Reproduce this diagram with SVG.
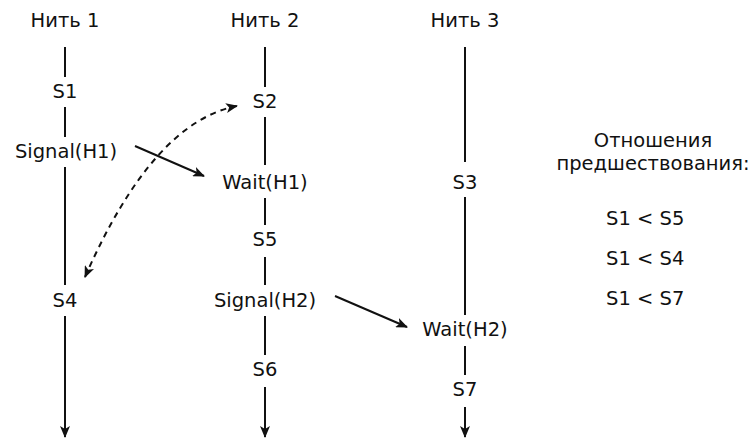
<svg xmlns="http://www.w3.org/2000/svg" width="752" height="438" viewBox="0 0 752 438">
  <style>
    text { font-family: "DejaVu Sans", "Liberation Sans", sans-serif; font-size: 19.5px; fill: #111; text-anchor: middle; }
    .rel { text-anchor: start; }
    .line { stroke: #111; stroke-width: 2; fill: none; }
    .dash { stroke: #111; stroke-width: 2; fill: none; stroke-dasharray: 6 5; }
  </style>
  <defs>
    <marker id="arrow" viewBox="0 0 12 10" refX="11" refY="5" markerWidth="12" markerHeight="10" markerUnits="userSpaceOnUse" orient="auto-start-reverse">
      <path d="M0,0 L12,5 L0,10 L3,5 Z" fill="#111"/>
    </marker>
  </defs>

  <!-- thread headings -->
  <g id="thread1-title"><text x="65" y="27">Нить 1</text></g>
  <g id="thread2-title"><text x="265" y="27">Нить 2</text></g>
  <g id="thread3-title"><text x="465" y="27">Нить 3</text></g>

  <!-- statements -->
  <g id="s1"><text x="65" y="98">S1</text></g>
  <g id="signal-h1"><text x="66" y="158">Signal(H1)</text></g>
  <g id="s4"><text x="65" y="307">S4</text></g>

  <g id="s2"><text x="265" y="108">S2</text></g>
  <g id="wait-h1"><text x="265" y="189">Wait(H1)</text></g>
  <g id="s5"><text x="265" y="246">S5</text></g>
  <g id="signal-h2"><text x="265" y="307">Signal(H2)</text></g>
  <g id="s6"><text x="265" y="376">S6</text></g>

  <g id="s3"><text x="465" y="189">S3</text></g>
  <g id="wait-h2"><text x="465" y="336">Wait(H2)</text></g>
  <g id="s7"><text x="465" y="396">S7</text></g>

  <!-- precedence relations -->
  <g id="relations">
    <text x="653" y="147">Отношения</text>
    <text x="653" y="170">предшествования:</text>
    <text class="rel" x="606" y="225">S1 &lt; S5</text>
    <text class="rel" x="606" y="265">S1 &lt; S4</text>
    <text class="rel" x="606" y="305">S1 &lt; S7</text>
  </g>

  <g id="connectors">
    <!-- thread 1 timeline -->
    <line class="line" x1="65" y1="47" x2="65" y2="77"/>
    <line class="line" x1="65" y1="107" x2="65" y2="137"/>
    <line class="line" x1="65" y1="167" x2="65" y2="285"/>
    <line class="line" x1="65" y1="316" x2="65" y2="437" marker-end="url(#arrow)"/>
    <!-- thread 2 timeline -->
    <line class="line" x1="265" y1="47" x2="265" y2="87"/>
    <line class="line" x1="265" y1="117" x2="265" y2="165"/>
    <line class="line" x1="265" y1="198" x2="265" y2="225"/>
    <line class="line" x1="265" y1="257" x2="265" y2="285"/>
    <line class="line" x1="265" y1="316" x2="265" y2="355"/>
    <line class="line" x1="265" y1="387" x2="265" y2="437" marker-end="url(#arrow)"/>
    <!-- thread 3 timeline -->
    <line class="line" x1="465" y1="47" x2="465" y2="162"/>
    <line class="line" x1="465" y1="197" x2="465" y2="315"/>
    <line class="line" x1="465" y1="346" x2="465" y2="375"/>
    <line class="line" x1="465" y1="407" x2="465" y2="437" marker-end="url(#arrow)"/>
    <!-- signal edges -->
    <line class="line" x1="135" y1="146" x2="204" y2="176" marker-end="url(#arrow)"/>
    <line class="line" x1="335" y1="296" x2="407" y2="327" marker-end="url(#arrow)"/>
    <!-- S2 / S4 unordered pair -->
    <path class="dash" d="M85,277 Q153,122 237,106" marker-start="url(#arrow)" marker-end="url(#arrow)"/>
  </g>
</svg>
